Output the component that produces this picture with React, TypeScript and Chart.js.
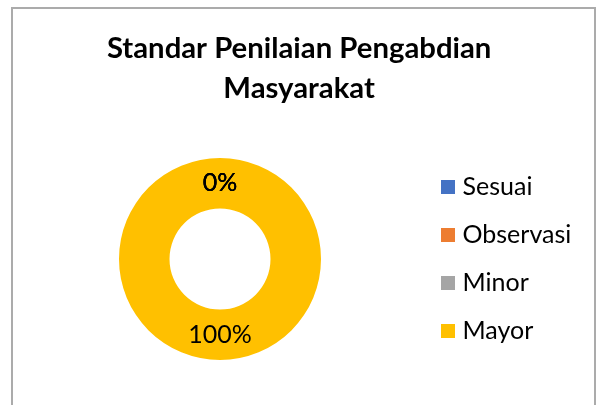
import React, { useEffect, useRef } from "react";
import { Chart, registerables } from "chart.js";

Chart.register(...registerables);

const titleLines = ["Standar Penilaian Pengabdian", "Masyarakat"];
const categories = ["Sesuai", "Observasi", "Minor", "Mayor"];
const values = [0, 0, 0, 100];
const colors = ["#4472C4", "#ED7D31", "#A5A5A5", "#FFC000"];

const FONT = "Lato, 'Open Sans', sans-serif";
const TITLE_FONT = 29.3;
const LEG_FONT = 25;
const LEG_PAD = 23;
const BOXW = 4;
const BOXH = 14;
const LBL_FONT = 25;
const CX = 220;

const labelPlugin = {
  id: "sliceLabels",
  afterDatasetsDraw(chart: any) {
    const { ctx } = chart;
    const meta = chart.getDatasetMeta(0);
    const data = chart.data.datasets[0].data as number[];
    const total = data.reduce((a: number, b: number) => a + b, 0);
    ctx.save();
    ctx.font = `${LBL_FONT}px ${FONT}`;
    ctx.fillStyle = "#000";
    ctx.textAlign = "center";
    ctx.textBaseline = "middle";
    meta.data.forEach((arc: any, i: number) => {
      const p = arc.getProps(["x", "y", "startAngle", "endAngle", "innerRadius", "outerRadius"], true);
      const a = (p.startAngle + p.endAngle) / 2;
      const r = (p.innerRadius + p.outerRadius) / 2;
      const pct = Math.round((data[i] / total) * 100) + "%";
      ctx.fillText(pct, p.x + Math.cos(a) * r, p.y + Math.sin(a) * r);
    });
    ctx.restore();
  },
};

export default function App() {
  const ref = useRef<HTMLCanvasElement>(null);
  useEffect(() => {
    const canvas = ref.current!;
    const m = document.createElement("canvas").getContext("2d")!;
    m.font = `${LEG_FONT}px ${FONT}`;
    const maxW = Math.max(...categories.map((c) => m.measureText(c).width));
    const legendW = LEG_PAD + BOXW + LEG_FONT / 2 + maxW + 10;
    const legendLeft = 446 - LEG_PAD;
    const padLeft = 2 * CX - legendLeft;
    const padRight = 600 - legendLeft - legendW;

    const chart = new Chart(canvas, {
      type: "doughnut",
      data: {
        labels: categories,
        datasets: [
          {
            data: values,
            backgroundColor: colors,
            borderWidth: 0,
            radius: 101,
          } as any,
        ],
      },
      options: {
        responsive: false,
        animation: false,
        cutout: "50%",
        layout: { padding: { top: 0, left: padLeft, right: padRight, bottom: 17 } },
        plugins: {
          tooltip: { enabled: false },
          title: {
            display: true,
            text: titleLines,
            color: "#000",
            font: { family: FONT, size: TITLE_FONT, weight: "bold", lineHeight: "40px" } as any,
            padding: { top: 29, bottom: 21 },
          },
          legend: {
            display: true,
            position: "right",
            align: "center",
            fullSize: false,
            labels: {
              usePointStyle: true,
              boxWidth: BOXW,
              boxHeight: BOXH,
              padding: LEG_PAD,
              color: "#000",
              font: { family: FONT, size: LEG_FONT },
              generateLabels: (ch: any) =>
                (ch.data.labels as string[]).map((t, i) => ({
                  text: t,
                  fillStyle: colors[i],
                  strokeStyle: colors[i],
                  lineWidth: 0,
                  pointStyle: "rect",
                  hidden: false,
                  index: i,
                  fontColor: "#000",
                })),
            },
          },
        },
      },
      plugins: [labelPlugin],
    });
    return () => chart.destroy();
  }, []);

  return (
    <div style={{ position: "fixed", left: 0, top: 0, width: 600, height: 405, background: "#fff", overflow: "hidden" }}>
      <div
        style={{
          position: "absolute",
          left: 11,
          top: 7,
          width: 585,
          height: 500,
          border: "2px solid #ababab",
          boxSizing: "border-box",
        }}
      />
      <canvas ref={ref} width={600} height={405} style={{ position: "absolute", left: 0, top: 0, width: 600, height: 405 }} />
    </div>
  );
}
